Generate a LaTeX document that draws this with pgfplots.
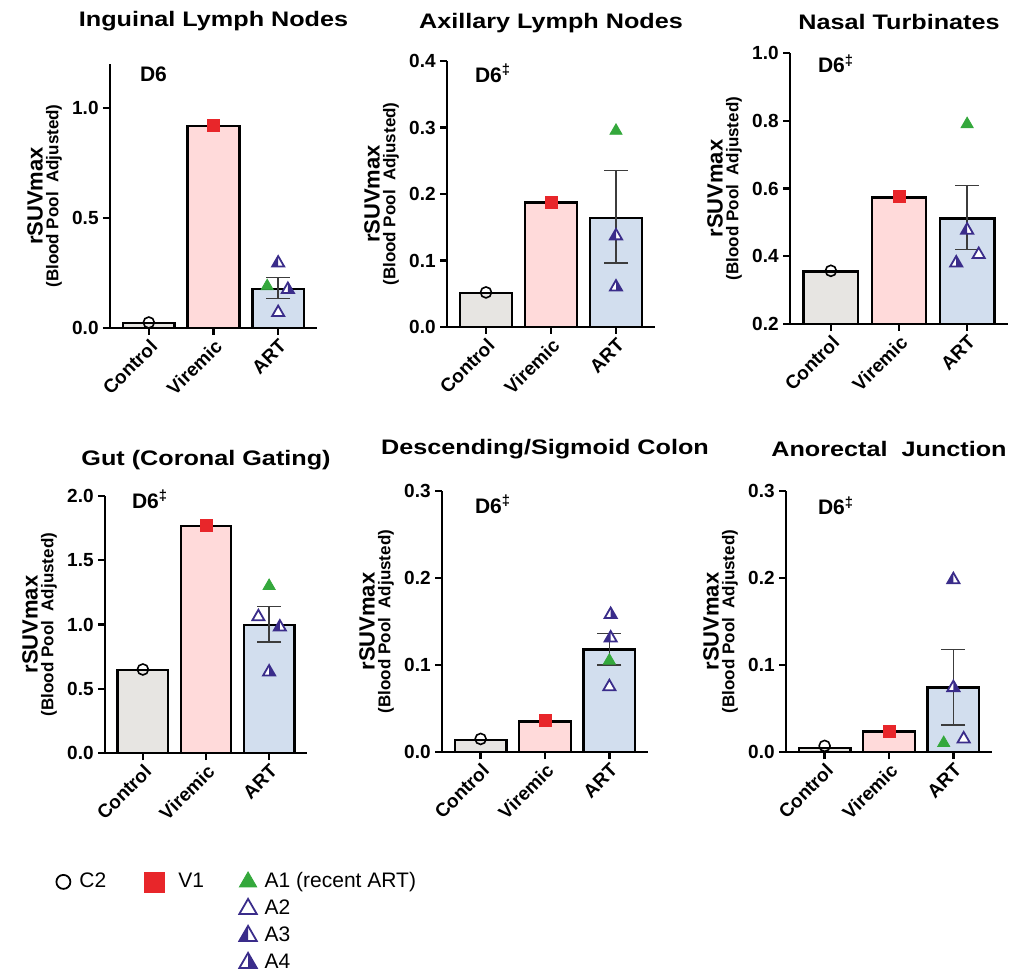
\documentclass[border=0pt]{standalone}
\usepackage{fontspec}
\setmainfont{Liberation Sans}
\newfontfamily\titlefont[FakeStretch=1.2]{Liberation Sans}
\usepackage{pgfplots}
\pgfplotsset{compat=1.18}
\definecolor{ctrlfill}{RGB}{231,229,226}
\definecolor{virfill}{RGB}{255,218,218}
\definecolor{artfill}{RGB}{210,222,238}
\definecolor{mred}{RGB}{232,38,42}
\definecolor{mgreen}{RGB}{52,168,60}
\definecolor{mind}{RGB}{58,44,138}
\definecolor{errc}{RGB}{60,60,60}

\pgfdeclareplotmark{triL}{%
  \begin{pgfscope}
  \pgfsetfillcolor{white}%
  \pgfpathmoveto{\pgfqpoint{0pt}{\pgfplotmarksize}}%
  \pgfpathlineto{\pgfqpointpolar{210}{\pgfplotmarksize}}%
  \pgfpathlineto{\pgfqpointpolar{330}{\pgfplotmarksize}}%
  \pgfpathclose\pgfusepathqfill
  \pgfsetfillcolor{mind}%
  \pgfpathmoveto{\pgfqpoint{0pt}{\pgfplotmarksize}}%
  \pgfpathlineto{\pgfqpointpolar{210}{\pgfplotmarksize}}%
  \pgfpathlineto{\pgfqpoint{0pt}{-0.5\pgfplotmarksize}}%
  \pgfpathclose\pgfusepathqfill
  \pgfpathmoveto{\pgfqpoint{0pt}{\pgfplotmarksize}}%
  \pgfpathlineto{\pgfqpointpolar{210}{\pgfplotmarksize}}%
  \pgfpathlineto{\pgfqpointpolar{330}{\pgfplotmarksize}}%
  \pgfpathclose\pgfusepathqstroke
  \end{pgfscope}%
}
\pgfdeclareplotmark{triR}{%
  \begin{pgfscope}
  \pgfsetfillcolor{white}%
  \pgfpathmoveto{\pgfqpoint{0pt}{\pgfplotmarksize}}%
  \pgfpathlineto{\pgfqpointpolar{210}{\pgfplotmarksize}}%
  \pgfpathlineto{\pgfqpointpolar{330}{\pgfplotmarksize}}%
  \pgfpathclose\pgfusepathqfill
  \pgfsetfillcolor{mind}%
  \pgfpathmoveto{\pgfqpoint{0pt}{\pgfplotmarksize}}%
  \pgfpathlineto{\pgfqpointpolar{330}{\pgfplotmarksize}}%
  \pgfpathlineto{\pgfqpoint{0pt}{-0.5\pgfplotmarksize}}%
  \pgfpathclose\pgfusepathqfill
  \pgfpathmoveto{\pgfqpoint{0pt}{\pgfplotmarksize}}%
  \pgfpathlineto{\pgfqpointpolar{210}{\pgfplotmarksize}}%
  \pgfpathlineto{\pgfqpointpolar{330}{\pgfplotmarksize}}%
  \pgfpathclose\pgfusepathqstroke
  \end{pgfscope}%
}

\pgfplotsset{
  panel/.style={
    scale only axis, anchor=south west,
    axis lines=left, axis line style={-, line width=1.2pt},
    xmin=-0.6, xmax=2.6, enlargelimits=false,
    xtick={0,1,2}, xticklabels={Control,Viremic,ART},
    tick align=outside, major tick length=3.5pt,
    tick style={line width=1.2pt, black},
    /pgf/number format/assume math mode=true,
    ticklabel style={font=\fontsize{9.5}{11}\selectfont\bfseries},
    xticklabel style={rotate=45, anchor=north east, inner sep=1pt},
    yticklabel style={inner sep=2pt},
    clip mode=individual,
  },
  bars/.style={ybar, bar width=0.8, bar shift=0pt, draw=black, line width=1.2pt},
  errs/.style={draw=none, mark=none, forget plot,
    error bars/.cd, y dir=both, y explicit, error mark=|,
    error bar style={draw=errc, line width=0.7pt},
    error mark options={draw=errc, line width=0.7pt, mark size=6pt}},
  mC/.style={only marks, mark=o, mark size=2.75pt, draw=black, line width=0.8pt},
  mV/.style={only marks, mark=square*, mark size=3pt, draw=mred, fill=mred},
  mA1/.style={only marks, mark=triangle*, mark size=3.5pt, draw=mgreen, fill=mgreen},
  mA2/.style={only marks, mark=triangle*, mark size=3.5pt, draw=mind, fill=white, line width=0.9pt},
  mA3/.style={only marks, mark=triL, mark size=3.5pt, draw=mind, line width=0.9pt},
  mA4/.style={only marks, mark=triR, mark size=3.5pt, draw=mind, line width=0.9pt},
}
\newcommand\paneltext[5]{%
  \node[anchor=base, font=\titlefont\fontsize{10.5}{12}\selectfont\bfseries] at ([yshift=#2]rel axis cs:0.5,1) {#1};
  \node[anchor=base west, font=\fontsize{10.5}{12}\selectfont\bfseries] at ([xshift=#4, yshift=#5]rel axis cs:0,1) {#3};
  \node[rotate=90, inner sep=0pt, font=\fontsize{11}{13}\selectfont\bfseries] at ([xshift=-37.5pt]rel axis cs:0,0.5) {rSUVmax};
  \node[rotate=90, inner sep=0pt, font=\fontsize{8.5}{10}\selectfont\bfseries] at ([xshift=-28pt]rel axis cs:0,0.5) {(Blood Pool\ \ Adjusted)};
}

\begin{document}
\begin{tikzpicture}
\useasboundingbox (0pt,0pt) rectangle (506pt,-488.5pt);

% Panel 1
\begin{axis}[panel, at={(55pt,-164pt)}, width=103.5pt, height=132pt,
  ymin=0, ymax=1.2, ytick={0,0.5,1}, yticklabels={0.0,0.5,1.0}]
\addplot[bars, fill=ctrlfill] coordinates {(0,0.022)};
\addplot[bars, fill=virfill] coordinates {(1,0.918)};
\addplot[bars, fill=artfill] coordinates {(2,0.177)};
\addplot[errs] coordinates {(2,0.177) += (0,0.053) -= (0,0.042)};
\addplot[mC] coordinates {(0,0.025)};
\addplot[mV] coordinates {(1,0.92)};
\addplot[mA1] coordinates {(1.83,0.19)};
\addplot[mA3] coordinates {(2,0.295)};
\addplot[mA4] coordinates {(2.15,0.175)};
\addplot[mA2] coordinates {(2,0.07)};
\paneltext{Inguinal Lymph Nodes}{18.5pt}{D6}{11.5pt}{-9pt}
\end{axis}

% Panel 2
\begin{axis}[panel, at={(223.5pt,-163.5pt)}, width=104pt, height=133pt,
  ymin=0, ymax=0.4, ytick={0,0.1,0.2,0.3,0.4}, yticklabels={0.0,0.1,0.2,0.3,0.4}]
\addplot[bars, fill=ctrlfill] coordinates {(0,0.051)};
\addplot[bars, fill=virfill] coordinates {(1,0.187)};
\addplot[bars, fill=artfill] coordinates {(2,0.164)};
\addplot[errs] coordinates {(2,0.164) += (0,0.071) -= (0,0.068)};
\addplot[mC] coordinates {(0,0.052)};
\addplot[mV] coordinates {(1,0.187)};
\addplot[mA1] coordinates {(2,0.295)};
\addplot[mA3] coordinates {(2,0.137)};
\addplot[mA4] coordinates {(2,0.06)};
\paneltext{Axillary Lymph Nodes}{16.5pt}{D6\textsuperscript{‡}}{10.5pt}{-10.5pt}
\end{axis}

% Panel 3
\begin{axis}[panel, at={(395pt,-162pt)}, width=109pt, height=135.5pt,
  ymin=0.2, ymax=1.0, ytick={0.2,0.4,0.6,0.8,1.0}, yticklabels={0.2,0.4,0.6,0.8,1.0}]
\addplot[bars, fill=ctrlfill] coordinates {(0,0.355)};
\addplot[bars, fill=virfill] coordinates {(1,0.574)};
\addplot[bars, fill=artfill] coordinates {(2,0.512)};
\addplot[errs] coordinates {(2,0.512) += (0,0.097) -= (0,0.092)};
\addplot[mC] coordinates {(0,0.357)};
\addplot[mV] coordinates {(1,0.576)};
\addplot[mA1] coordinates {(2,0.79)};
\addplot[mA3] coordinates {(2,0.477)};
\addplot[mA4] coordinates {(1.84,0.38)};
\addplot[mA2] coordinates {(2.17,0.405)};
\paneltext{Nasal Turbinates}{11.5pt}{D6\textsuperscript{‡}}{10.5pt}{-10pt}
\end{axis}

% Panel 4
\begin{axis}[panel, at={(52.5pt,-376.5pt)}, width=101pt, height=128.5pt,
  ymin=0, ymax=2.0, ytick={0,0.5,1,1.5,2}, yticklabels={0.0,0.5,1.0,1.5,2.0}]
\addplot[bars, fill=ctrlfill] coordinates {(0,0.648)};
\addplot[bars, fill=virfill] coordinates {(1,1.767)};
\addplot[bars, fill=artfill] coordinates {(2,0.997)};
\addplot[errs] coordinates {(2,0.997) += (0,0.143) -= (0,0.132)};
\addplot[mC] coordinates {(0,0.65)};
\addplot[mV] coordinates {(1,1.77)};
\addplot[mA1] coordinates {(2,1.30)};
\addplot[mA2] coordinates {(1.83,1.06)};
\addplot[mA3] coordinates {(2.17,0.98)};
\addplot[mA4] coordinates {(2,0.63)};
\paneltext{Gut (Coronal Gating)}{15.5pt}{D6\textsuperscript{‡}}{10pt}{-6pt}
\end{axis}

% Panel 5
\begin{axis}[panel, at={(221pt,-376pt)}, width=103pt, height=130.5pt,
  ymin=0, ymax=0.3, ytick={0,0.1,0.2,0.3}, yticklabels={0.0,0.1,0.2,0.3}]
\addplot[bars, fill=ctrlfill] coordinates {(0,0.0135)};
\addplot[bars, fill=virfill] coordinates {(1,0.035)};
\addplot[bars, fill=artfill] coordinates {(2,0.118)};
\addplot[errs] coordinates {(2,0.118) += (0,0.018) -= (0,0.018)};
\addplot[mC] coordinates {(0,0.015)};
\addplot[mV] coordinates {(1,0.036)};
\addplot[mA4] coordinates {(2.02,0.158)};
\addplot[mA3] coordinates {(2.02,0.131)};
\addplot[mA1] coordinates {(2,0.105)};
\addplot[mA2] coordinates {(2,0.075)};
\paneltext{Descending/Sigmoid Colon}{18pt}{D6\textsuperscript{‡}}{13pt}{-11pt}
\end{axis}

% Panel 6
\begin{axis}[panel, at={(393pt,-376pt)}, width=103pt, height=130.5pt,
  ymin=0, ymax=0.3, ytick={0,0.1,0.2,0.3}, yticklabels={0.0,0.1,0.2,0.3}]
\addplot[bars, fill=ctrlfill] coordinates {(0,0.0046)};
\addplot[bars, fill=virfill] coordinates {(1,0.0234)};
\addplot[bars, fill=artfill] coordinates {(2,0.074)};
\addplot[errs] coordinates {(2,0.074) += (0,0.044) -= (0,0.043)};
\addplot[mC] coordinates {(0,0.007)};
\addplot[mV] coordinates {(1,0.024)};
\addplot[mA3] coordinates {(2,0.198)};
\addplot[mA4] coordinates {(2,0.074)};
\addplot[mA1] coordinates {(1.85,0.0103)};
\addplot[mA2] coordinates {(2.16,0.015)};
\paneltext{Anorectal\ \ Junction}{17pt}{D6\textsuperscript{‡}}{12.5pt}{-12pt}
\end{axis}

% Legend
\begin{axis}[hide axis, scale only axis, width=10pt, height=10pt,
  xmin=0, xmax=1, ymin=0, ymax=1, at={(24.5pt,-434pt)}, anchor=north west,
  legend columns=3, legend cell align=left,
  legend style={at={(0,1)}, anchor=north west, draw=none, fill=none,
    font=\fontsize{10.5}{12}\selectfont, inner sep=0pt, row sep=0pt,
    nodes={inner sep=1.5pt, text height=8pt, text depth=2.5pt}},
  legend image code/.code={\draw[mark repeat=2,mark phase=2,#1] plot coordinates {(0pt,0pt)(7pt,0pt)(14pt,0pt)};}]
\addlegendimage{only marks, mark=o, mark size=3.5pt, draw=black, line width=0.9pt}
\addlegendentry{\makebox[32pt][l]{\hspace{3pt}C2}}
\addlegendimage{only marks, mark=square*, mark size=5pt, draw=mred, fill=mred}
\addlegendentry{\makebox[34.5pt][l]{\hspace{5.5pt}V1}}
\addlegendimage{only marks, mark=triangle*, mark size=5pt, draw=mgreen, fill=mgreen}
\addlegendentry{\hspace{2.5pt}A1 (recent ART)}
\addlegendimage{empty legend}\addlegendentry{}
\addlegendimage{empty legend}\addlegendentry{}
\addlegendimage{only marks, mark=triangle*, mark size=5pt, draw=mind, fill=white, line width=0.9pt}
\addlegendentry{\hspace{2.5pt}A2}
\addlegendimage{empty legend}\addlegendentry{}
\addlegendimage{empty legend}\addlegendentry{}
\addlegendimage{only marks, mark=triL, mark size=5pt, draw=mind, line width=0.9pt}
\addlegendentry{\hspace{2.5pt}A3}
\addlegendimage{empty legend}\addlegendentry{}
\addlegendimage{empty legend}\addlegendentry{}
\addlegendimage{only marks, mark=triR, mark size=5pt, draw=mind, line width=0.9pt}
\addlegendentry{\hspace{2.5pt}A4}
\end{axis}
\end{tikzpicture}
\end{document}
